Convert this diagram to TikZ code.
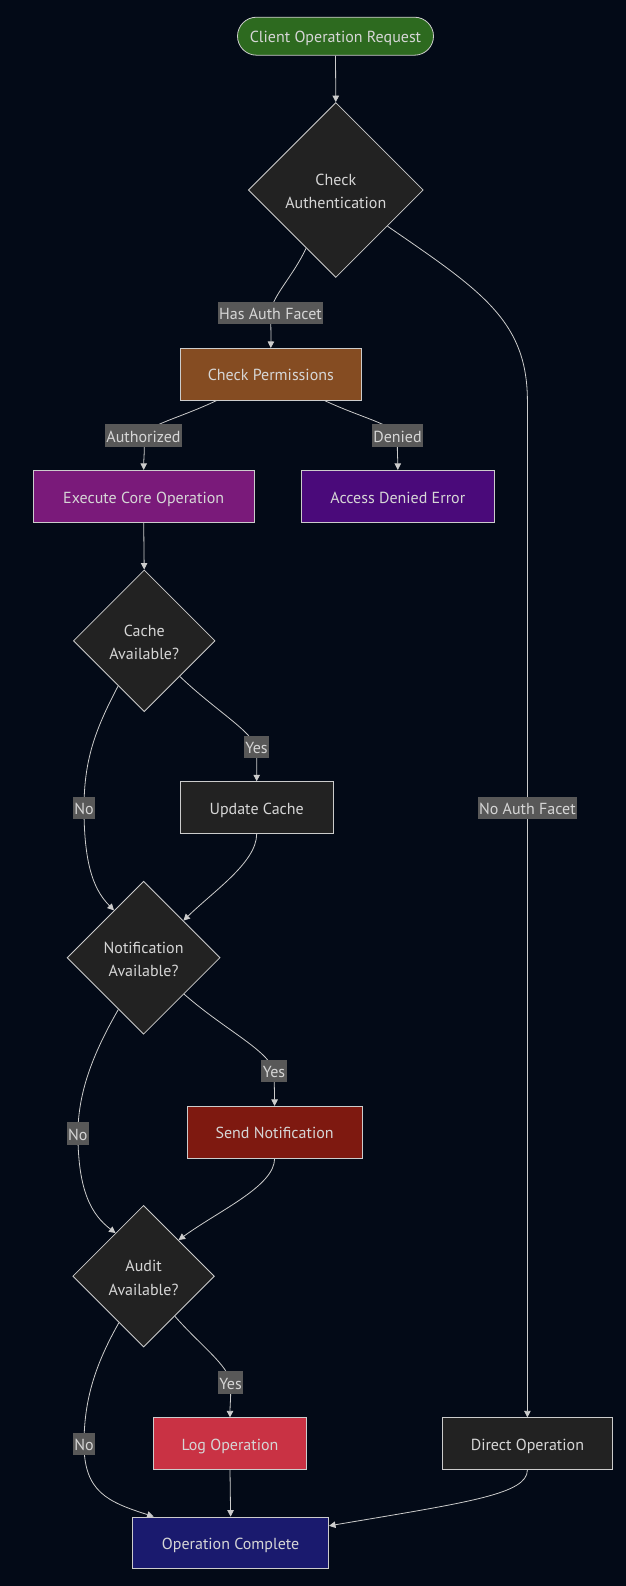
\documentclass[tikz,border=0pt]{standalone}
\usepackage{fontspec}
\setmainfont{PT Sans}
\usetikzlibrary{shapes.geometric,arrows.meta}
\definecolor{bgc}{HTML}{030A17}
\definecolor{linec}{HTML}{CCCCCC}
\definecolor{txtc}{HTML}{D6D6D6}
\definecolor{lblc}{HTML}{585858}
\definecolor{cgreen}{HTML}{2D6A1F}
\definecolor{cbrown}{HTML}{854C22}
\definecolor{cpurp}{HTML}{7A1A7A}
\definecolor{cviol}{HTML}{4A0A7A}
\definecolor{cdark}{HTML}{222222}
\definecolor{cred}{HTML}{7E1910}
\definecolor{cpink}{HTML}{C93244}
\definecolor{cnavy}{HTML}{1A1A6E}
\newcommand{\twol}[2]{\raisebox{-2.5bp}[\height][\depth]{\begin{tabular}{@{}c@{}}#1\\#2\end{tabular}}}
\pgfdeclarelayer{bglayer}
\pgfdeclarelayer{edgelayer}
\pgfsetlayers{bglayer,edgelayer,main}
\begin{document}
\begin{tikzpicture}[x=1bp,y=-1bp,
  txt/.style={text=txtc,font=\fontsize{16bp}{23.5bp}\selectfont},
  base/.style={txt,draw=linec,line width=0.8bp,inner sep=0pt},
  box/.style={base,rectangle,minimum height=51.7bp,text height=13.5bp,text depth=0bp},
  dia/.style={base,diamond,aspect=1,fill=cdark},
  lbl/.style={txt,fill=lblc,inner xsep=1.5bp,inner ysep=0pt,minimum height=22.3bp,text height=13bp,text depth=0bp},
  conn/.style={draw=linec,line width=0.8bp,-{Triangle[length=6.5bp,width=6.5bp]}}
]
\begin{pgfonlayer}{bglayer}
\fill[bgc] (0,0) rectangle (626,1586);
\end{pgfonlayer}
\useasboundingbox (0,0) rectangle (626,1586);

% nodes
\node[box,fill=cgreen,rounded corners=19bp,minimum width=196bp,minimum height=38bp] (client) at (335.5,36.2) {Client Operation Request};
\node[dia,minimum width=175bp,minimum height=175bp] (auth) at (335.8,190) {\twol{Check}{Authentication}};
\node[box,fill=cbrown,minimum width=181.7bp] (perm) at (270.8,374.2) {Check Permissions};
\node[box,fill=cpurp,minimum width=220.7bp,minimum height=52bp] (exec) at (143.7,496.3) {Execute Core Operation};
\node[box,fill=cviol,minimum width=193bp,minimum height=52bp] (deny) at (397.8,496.3) {Access Denied Error};
\node[dia,minimum width=141.7bp,minimum height=141.7bp] (cache) at (144.2,640.8) {\twol{Cache}{Available?}};
\node[box,fill=cdark,minimum width=152.7bp] (upd) at (256.7,807.5) {Update Cache};
\node[dia,minimum width=153bp,minimum height=153bp] (notif) at (143.6,957.7) {\twol{Notification}{Available?}};
\node[box,fill=cred,minimum width=175bp] (send) at (274.6,1132.2) {Send Notification};
\node[dia,minimum width=141.6bp,minimum height=141.6bp] (audit) at (143.6,1276.2) {\twol{Audit}{Available?}};
\node[box,fill=cpink,minimum width=152.7bp] (log) at (230,1443.6) {Log Operation};
\node[box,fill=cdark,minimum width=170.8bp] (direct) at (527.4,1443.6) {Direct Operation};
\node[box,fill=cnavy,minimum width=196bp] (comp) at (230.6,1542.8) {Operation Complete};

% edge labels
\node[lbl] (lHas) at (270.5,313.2) {Has Auth Facet};
\node[lbl] (lAuthz) at (143.5,435.5) {Authorized};
\node[lbl] (lDen) at (397.5,435.5) {Denied};
\node[lbl] (lYes1) at (256.5,747.3) {Yes};
\node[lbl] (lNo1) at (84,808.3) {No};
\node[lbl] (lNoAuth) at (527.4,808.3) {No Auth Facet};
\node[lbl] (lYes2) at (274,1071) {Yes};
\node[lbl] (lNo2) at (77.9,1133.6) {No};
\node[lbl] (lYes3) at (230.6,1382.5) {Yes};
\node[lbl] (lNo3) at (84,1444) {No};

% connectors
\begin{pgfonlayer}{edgelayer}
\draw[conn] (client.south) -- (auth.north);
\draw[conn] (auth.243) .. controls (292,278) and (272,296) .. (lHas.center) .. controls (271,330) and (271,338) .. (perm.north);
\draw[conn] (auth.325) .. controls (480,290) and (527,320) .. (527.4,400) -- (lNoAuth.center) -- (direct.north);
\draw[conn] ([xshift=-54bp]perm.south) .. controls (180,418) and (150,424) .. (lAuthz.center) .. controls (145,452) and (143.7,458) .. (exec.north);
\draw[conn] ([xshift=53.5bp]perm.south) .. controls (362,418) and (392,424) .. (lDen.center) .. controls (397,452) and (397.8,458) .. (deny.north);
\draw[conn] (exec.south) -- (cache.north);
\draw[conn] (cache.south east) .. controls (215,710) and (250,730) .. (lYes1.center) .. controls (257,762) and (256.7,770) .. (upd.north);
\draw[conn] (cache.240) .. controls (95,730) and (84,760) .. (lNo1.center) .. controls (84,870) and (96,892) .. (notif.122);
\draw[conn] (upd.south) .. controls (256.7,862) and (215,890) .. (notif.43);
\draw[conn] (notif.318) .. controls (225,1030) and (268,1050) .. (lYes2.center) .. controls (274.3,1088) and (274.6,1095) .. (send.north);
\draw[conn] (notif.244) .. controls (95,1050) and (78,1090) .. (lNo2.center) .. controls (78,1192) and (92,1215) .. (audit.123);
\draw[conn] (send.south) .. controls (274.6,1186) and (220,1210) .. (audit.46);
\draw[conn] (audit.308) .. controls (200,1345) and (228,1365) .. (lYes3.center) .. controls (231,1398) and (230,1405) .. (log.north);
\draw[conn] (audit.242) .. controls (95,1365) and (84,1400) .. (lNo3.center) .. controls (84,1492) and (108,1502) .. ([xshift=-77bp]comp.north);
\draw[conn] (log.south) -- (comp.north);
\draw[conn] (direct.south) .. controls (527.4,1494) and (470,1502) .. ([yshift=17bp]comp.east);
\end{pgfonlayer}
\end{tikzpicture}
\end{document}
